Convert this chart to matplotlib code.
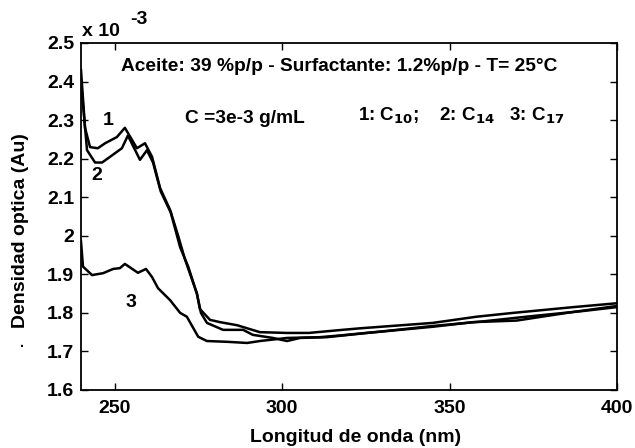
import numpy as np
import matplotlib
matplotlib.use("Agg")
from matplotlib import pyplot as plt
from matplotlib.ticker import FuncFormatter

# wavelength (nm) and optical density (x 1e-3)
wl_c10 = [240, 241.2, 242.7, 245, 247.2, 250.7, 253.1, 256.7, 259.1, 261.2, 263.6,
          266.6, 269, 271, 274.6, 275.5, 278.5, 281.5, 286.6, 293.4, 301.5, 308,
          318, 323.3, 345, 358, 369, 387, 400]
od_c10 = [2.43, 2.28, 2.23, 2.227, 2.24, 2.256, 2.28, 2.227, 2.24, 2.205, 2.124,
          2.067, 2.0, 1.94, 1.85, 1.81, 1.782, 1.776, 1.768, 1.75, 1.748, 1.748,
          1.756, 1.76, 1.774, 1.79, 1.80, 1.815, 1.825]

wl_c14 = [240, 241.8, 244.2, 246.3, 248.7, 252.2, 254, 257.6, 259.7, 261.5, 263.8,
          266.8, 269.6, 272, 274.6, 275.8, 277.6, 282.4, 288.4, 291.3, 297.3, 301.5,
          305.4, 313.4, 325.4, 345, 357, 370, 385, 400]
od_c14 = [2.40, 2.222, 2.19, 2.19, 2.205, 2.227, 2.26, 2.197, 2.222, 2.19, 2.115,
          2.06, 1.97, 1.92, 1.85, 1.80, 1.774, 1.756, 1.756, 1.743, 1.735, 1.727,
          1.735, 1.737, 1.748, 1.764, 1.776, 1.78, 1.80, 1.818]

wl_c17 = [240, 240.6, 243.3, 246.6, 249.6, 251.6, 253.1, 257, 259.4, 261.2, 263,
          266.6, 269.6, 271.6, 275, 277.6, 283.6, 289.6, 293.4, 301.5, 311.3, 318,
          330, 345, 360, 375, 390, 400]
od_c17 = [1.985, 1.92, 1.898, 1.903, 1.914, 1.916, 1.927, 1.904, 1.914, 1.893, 1.864,
          1.833, 1.80, 1.79, 1.738, 1.727, 1.725, 1.722, 1.727, 1.735, 1.737, 1.742,
          1.752, 1.766, 1.778, 1.792, 1.805, 1.815]

x_ticks = [250, 300, 350, 400]
y_ticks = [1.6, 1.7, 1.8, 1.9, 2.0, 2.1, 2.2, 2.3, 2.4, 2.5]

plt.rcParams['font.family'] = ['Liberation Sans', 'DejaVu Sans']
plt.rcParams['font.weight'] = 'bold'
W, H = 635, 448
fig = plt.figure(figsize=(W / 100, H / 100), dpi=100)
ax = fig.add_axes([81 / W, 1 - 390 / H, (617 - 81) / W, (390 - 43) / H])

for wl, od in [(wl_c10, od_c10), (wl_c14, od_c14), (wl_c17, od_c17)]:
    ax.plot(wl, od, color='black', lw=1.8)

ax.set_xlim(240, 400)
ax.set_ylim(1.6, 2.5)
ax.set_xticks(x_ticks)
ax.set_yticks(y_ticks)
ax.yaxis.set_major_formatter(FuncFormatter(lambda v, p: '%g' % round(v, 2)))
ax.tick_params(direction='in', length=5, width=1, top=True, right=True,
               labelsize=14, pad=5)
ax.tick_params(axis='x', pad=7)
for s in ax.spines.values():
    s.set_linewidth(1.3)

# annotations
ax.text(252, 2.44, 'Aceite: 39 %p/p - Surfactante: 1.2%p/p - T= 25\u00b0C',
        fontsize=13.8, va='center')
ax.text(271, 2.305, 'C =3e-3 g/mL', fontsize=13.8, va='center')
ax.text(322.7, 2.31, '1: C$_{\\mathbf{10}}$;    2: C$_{\\mathbf{14}}$   3: C$_{\\mathbf{17}}$',
        fontsize=13.5, va='center')
ax.text(248, 2.30, '1', fontsize=14, ha='center', va='center')
ax.text(244.8, 2.157, '2', fontsize=14, ha='center', va='center')
ax.text(255, 1.827, '3', fontsize=14, ha='center', va='center')

# offset / axis labels
fig.text(82 / W, 1 - 31 / H, 'x 10', fontsize=14, va='center')
fig.text(130 / W, 1 - 20 / H, '-3', fontsize=14, va='center')
fig.text(356 / W, 1 - 437 / H, 'Longitud de onda (nm)', fontsize=14,
         ha='center', va='center')
fig.text(21 / W, 1 - 231 / H, 'Densidad optica (Au)', fontsize=14,
         rotation=90, ha='center', va='center')
fig.text(22 / W, 1 - 343 / H, '.', fontsize=10, ha='center', va='center')

fig.savefig('out.png', dpi=100)
